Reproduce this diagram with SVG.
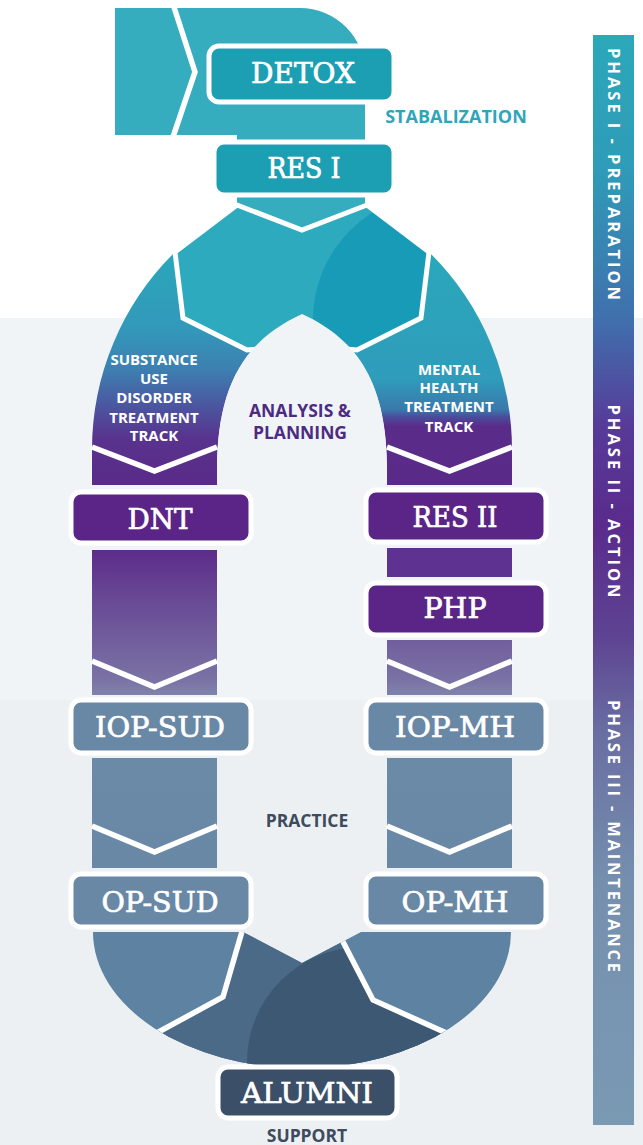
<svg xmlns="http://www.w3.org/2000/svg" width="643" height="1145" viewBox="0 0 643 1145">
<defs>
<style>
.box{stroke:#fff;stroke-width:5}
.lbl{font-family:"DejaVu Serif","Liberation Serif",serif;font-size:27px;fill:#fff;stroke:#fff;stroke-width:0.7;text-anchor:middle}
.trk{font-family:"Open Sans","Liberation Sans",sans-serif;font-weight:700;font-size:15px;fill:#fff;text-anchor:middle}
.cap{font-family:"Open Sans","Liberation Sans",sans-serif;font-weight:700;text-anchor:middle}
.sep{fill:none;stroke:#fff;stroke-width:5.5;stroke-linejoin:miter}
.ph{font-family:"Open Sans","Liberation Sans",sans-serif;font-weight:700;font-size:16.5px;fill:#fff;text-anchor:middle}
.teal{fill:#1d9fb3}.purp{fill:#5a2586}.slate{fill:#6988a5}
</style>
<linearGradient id="gl" gradientUnits="userSpaceOnUse" x1="0" y1="250" x2="0" y2="485">
<stop offset="0" stop-color="#2aa8bb"/><stop offset="0.34" stop-color="#3398ba"/><stop offset="0.51" stop-color="#3d7fb0"/><stop offset="0.66" stop-color="#4b57a0"/><stop offset="0.8" stop-color="#58338e"/><stop offset="1" stop-color="#5a2a88"/>
</linearGradient>
<linearGradient id="gr" gradientUnits="userSpaceOnUse" x1="0" y1="250" x2="0" y2="485">
<stop offset="0" stop-color="#2aa8bb"/><stop offset="0.55" stop-color="#2f9cbb"/><stop offset="0.68" stop-color="#3a78ab"/><stop offset="0.71" stop-color="#4a4c9c"/><stop offset="0.75" stop-color="#5a2c8a"/><stop offset="1" stop-color="#5a2a88"/>
</linearGradient>
<linearGradient id="gs2" gradientUnits="userSpaceOnUse" x1="0" y1="548" x2="0" y2="695">
<stop offset="0" stop-color="#5c2b89"/><stop offset="0.4" stop-color="#6a4d96"/><stop offset="0.9" stop-color="#7a72a5"/><stop offset="1" stop-color="#8084ac"/>
</linearGradient>
<linearGradient id="gs3" gradientUnits="userSpaceOnUse" x1="0" y1="758" x2="0" y2="868">
<stop offset="0" stop-color="#6b8aa8"/><stop offset="1" stop-color="#6888a6"/>
</linearGradient>
<linearGradient id="gbar" gradientUnits="userSpaceOnUse" x1="0" y1="35" x2="0" y2="1125">
<stop offset="0" stop-color="#2ba8b9"/><stop offset="0.12" stop-color="#2f9cb8"/><stop offset="0.26" stop-color="#4070ad"/><stop offset="0.36" stop-color="#573a98"/><stop offset="0.45" stop-color="#5a2b8c"/><stop offset="0.55" stop-color="#5e4392"/><stop offset="0.64" stop-color="#6a6ea2"/><stop offset="0.78" stop-color="#7590ae"/><stop offset="1" stop-color="#7a99b3"/>
</linearGradient>
<clipPath id="hexclip"><path d="M237,205 L302,230 L367,205 L429,252 L421,318 L357,350 L302,345 L247,350 L183,318 L175,252 Z"/></clipPath>
<clipPath id="uclip"><path d="M93,932 H243 L302,963 L361,932 H511 A209,136 0 0 1 93,932 Z"/></clipPath>
<clipPath id="cclip"><path d="M243,925 L243,935 L223,997 L150,1036 L150,1120 L460,1120 L448,1033 L373,1000 L342,942 L343,925 Z"/></clipPath>
</defs>

<rect x="0" y="0" width="643" height="1145" fill="#ffffff"/>
<rect x="0" y="318" width="643" height="382" fill="#f1f4f6"/>
<rect x="0" y="700" width="643" height="445" fill="#ecf0f3"/>

<g id="connectors">
  <path d="M115,8 H300 A65,65 0 0 1 365,73 V240 H237 V135 H115 Z" fill="#35adbf"/>
  <polyline class="sep" points="173,4 195,72 172,140"/>
  <path d="M175,252 A277,277 0 0 0 92,450 V485 H217 V470 C217,385 245,340 302,314 L302,240 L237,205 Z" fill="url(#gl)"/>
  <path d="M429,252 A277,277 0 0 1 512,450 V485 H387 V470 C387,385 359,340 302,314 L302,240 L367,205 Z" fill="url(#gr)"/>
  <path d="M237,205 L302,230 L367,205 L429,252 L421,318 L357,350 L302,345 L247,350 L183,318 L175,252 Z" fill="#2eaabf"/>
  <circle cx="440" cy="320" r="127" fill="#189bb7" clip-path="url(#hexclip)"/>
  <path d="M237,205 L302,230 L367,205 L429,252 L421,318 L357,350 L302,345 L247,350 L183,318 L175,252 Z" fill="none" stroke="#fff" stroke-width="5"/>
  <path d="M217,492 V470 C217,385 245,340 302,314 C359,340 387,385 387,470 V492 Z" fill="#f1f4f6"/>
  <polyline class="sep" points="92,447 154.5,471 217,447"/>
  <polyline class="sep" points="387,447 449.5,471 512,447"/>
  <rect x="92" y="550" width="125" height="145" fill="url(#gs2)"/>
  <rect x="387" y="548" width="125" height="29" fill="#5e3290"/>
  <rect x="387" y="640" width="125" height="55" fill="url(#gs2)"/>
  <polyline class="sep" points="92,661 154.5,687 217,661"/>
  <polyline class="sep" points="387,661 449.5,687 512,661"/>
  <rect x="92" y="758" width="125" height="110" fill="url(#gs3)"/>
  <rect x="387" y="758" width="125" height="110" fill="url(#gs3)"/>
  <polyline class="sep" points="92,826 154.5,852 217,826"/>
  <polyline class="sep" points="387,826 449.5,852 512,826"/>
  <g clip-path="url(#uclip)">
    <rect x="90" y="925" width="425" height="150" fill="#5e83a2"/>
    <rect x="140" y="925" width="330" height="200" fill="#4b6a88" clip-path="url(#cclip)"/>
    <circle cx="362" cy="1062" r="115" fill="#3c5873" clip-path="url(#cclip)"/>
    <polyline class="sep" points="243,928 223,997 140,1042"/>
    <polyline class="sep" points="340,936 373,1000 462,1040"/>
  </g>
</g>

<g id="phase-bar">
  <rect x="593" y="35" width="41" height="1090" fill="url(#gbar)"/>
  <text class="ph" transform="translate(607.5,174) rotate(90)" textLength="252" lengthAdjust="spacing">PHASE I - PREPARATION</text>
  <text class="ph" transform="translate(607.5,501) rotate(90)" textLength="193" lengthAdjust="spacing">PHASE II - ACTION</text>
  <text class="ph" transform="translate(607.5,836) rotate(90)" textLength="272" lengthAdjust="spacing">PHASE III - MAINTENANCE</text>
</g>

<g id="node-detox"><rect class="box teal" x="209" y="46" width="185" height="56" rx="10"/><text class="lbl" x="303" y="83" textLength="104" lengthAdjust="spacingAndGlyphs">DETOX</text></g>
<g id="node-res1"><rect class="box teal" x="214" y="142" width="180" height="53" rx="10"/><text class="lbl" x="304" y="178" textLength="73" lengthAdjust="spacingAndGlyphs">RES I</text></g>
<g id="label-stabalization"><text class="cap" x="456" y="123" font-size="18" fill="#2ea6b9">STABALIZATION</text></g>

<g id="label-sud-track">
  <text class="trk" x="154" y="365">SUBSTANCE</text>
  <text class="trk" x="154" y="384">USE</text>
  <text class="trk" x="154" y="403">DISORDER</text>
  <text class="trk" x="154" y="423">TREATMENT</text>
  <text class="trk" x="154" y="441">TRACK</text>
</g>
<g id="label-mh-track">
  <text class="trk" x="449" y="375">MENTAL</text>
  <text class="trk" x="449" y="393">HEALTH</text>
  <text class="trk" x="449" y="412">TREATMENT</text>
  <text class="trk" x="449" y="432">TRACK</text>
</g>
<g id="label-analysis">
  <text class="cap" x="300" y="417" font-size="17.5" fill="#4d2b82">ANALYSIS &amp;</text>
  <text class="cap" x="300" y="439" font-size="17.5" fill="#4d2b82">PLANNING</text>
</g>

<g id="node-dnt"><rect class="box purp" x="71" y="492" width="180" height="51" rx="10"/><text class="lbl" x="160" y="529" textLength="65" lengthAdjust="spacingAndGlyphs">DNT</text></g>
<g id="node-res2"><rect class="box purp" x="366" y="490" width="180" height="52" rx="10"/><text class="lbl" x="455" y="527" textLength="85" lengthAdjust="spacingAndGlyphs">RES II</text></g>
<g id="node-php"><rect class="box purp" x="366" y="583" width="180" height="52" rx="10"/><text class="lbl" x="455" y="618" textLength="63" lengthAdjust="spacingAndGlyphs">PHP</text></g>
<g id="node-iop-sud"><rect class="box slate" x="71" y="700" width="180" height="53" rx="10"/><text class="lbl" x="160" y="737" textLength="130" lengthAdjust="spacingAndGlyphs">IOP-SUD</text></g>
<g id="node-iop-mh"><rect class="box slate" x="366" y="700" width="180" height="53" rx="10"/><text class="lbl" x="455" y="737" textLength="120" lengthAdjust="spacingAndGlyphs">IOP-MH</text></g>
<g id="label-practice"><text class="cap" x="307" y="827" font-size="17.5" fill="#3d4b5c">PRACTICE</text></g>
<g id="node-op-sud"><rect class="box slate" x="71" y="874" width="180" height="53" rx="10"/><text class="lbl" x="160" y="912" textLength="117" lengthAdjust="spacingAndGlyphs">OP-SUD</text></g>
<g id="node-op-mh"><rect class="box slate" x="366" y="874" width="180" height="53" rx="10"/><text class="lbl" x="455" y="912" textLength="107" lengthAdjust="spacingAndGlyphs">OP-MH</text></g>
<g id="node-alumni"><rect class="box" fill="#3b5068" x="218" y="1067" width="179" height="51" rx="10"/><text class="lbl" x="307" y="1103" textLength="132" lengthAdjust="spacingAndGlyphs">ALUMNI</text></g>
<g id="label-support"><text class="cap" x="307" y="1142" font-size="17.5" fill="#3d4b5c">SUPPORT</text></g>
</svg>
